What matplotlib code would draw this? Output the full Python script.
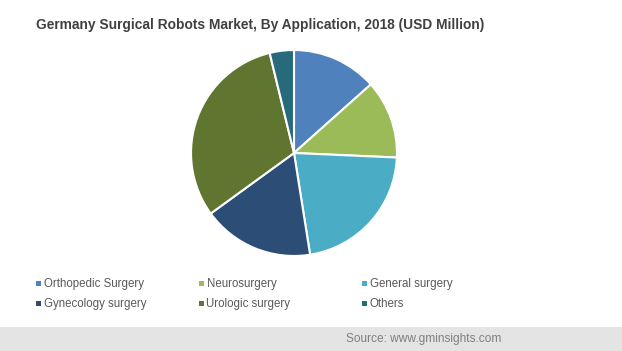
import matplotlib.pyplot as plt
from matplotlib.patches import Rectangle

# data (share of 2018 market, %)
labels = ['Orthopedic Surgery', 'Neurosurgery', 'General surgery',
          'Gynecology surgery', 'Urologic surgery', 'Others']
values = [13.4, 12.3, 21.8, 17.5, 31.2, 3.8]
colors = ['#4F81BD', '#9BBB59', '#4BACC6', '#2C4D75', '#5F7530', '#276A7C']

W, H = 622, 351
fig = plt.figure(figsize=(W / 100, H / 100), dpi=100)
fig.patch.set_facecolor('white')

# pie, centre (294,153) px, radius 104 px
cx, cy, r = 294, 153, 104
ax = fig.add_axes([(cx - r) / W, (H - cy - r) / H, 2 * r / W, 2 * r / H])
ax.pie(values, colors=colors, startangle=90, counterclock=False,
       wedgeprops=dict(edgecolor='white', linewidth=1.5))
ax.set_xlim(-1.01, 1.01)
ax.set_ylim(-1.01, 1.01)
ax.set_aspect('equal')
ax.axis('off')

fig.text(260 / W, 1 - 25 / H,
         'Germany Surgical Robots Market, By Application, 2018 (USD Million)',
         ha='center', va='center', fontsize=9.9, fontweight='bold',
         color='#404040', family='Liberation Sans')

# legend, 3 columns x 2 rows
col_x = [36, 199, 362]
row_y = [283, 303]
for i, (lab, col) in enumerate(zip(labels, colors)):
    x = col_x[i % 3]
    y = row_y[i // 3]
    fig.add_artist(Rectangle((x / W, 1 - (y + 2.5) / H), 5 / W, 5 / H,
                             transform=fig.transFigure, facecolor=col,
                             edgecolor='none'))
    fig.text((x + 7.5) / W, 1 - (y + 4) / H, lab, ha='left', va='baseline',
             fontsize=8.3, color='#595959', family='Liberation Sans')

# footer band
fig.add_artist(Rectangle((0, 0), 1, (H - 327) / H, transform=fig.transFigure,
                         facecolor='#E4E4E4', edgecolor='none'))
fig.text(501 / W, 1 - 342 / H, 'Source: www.gminsights.com', ha='right',
         va='baseline', fontsize=8.6, color='#7F7F7F',
         family='Liberation Sans')

fig.savefig('out.png', dpi=100)
